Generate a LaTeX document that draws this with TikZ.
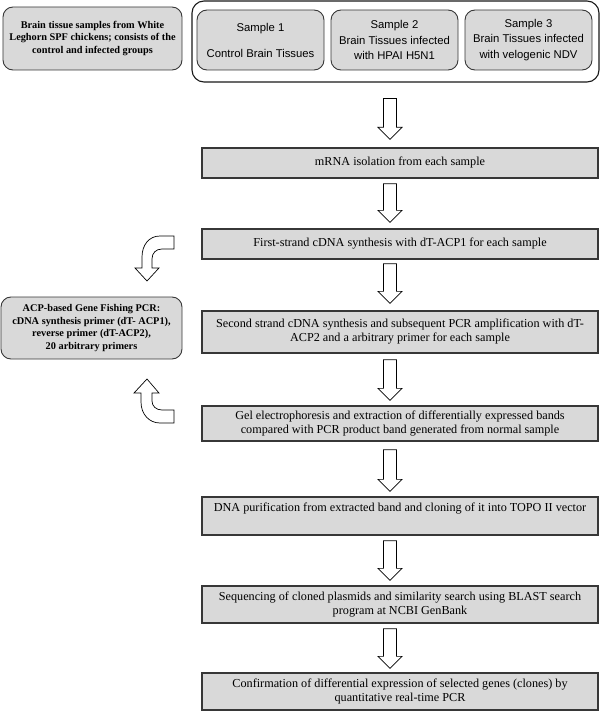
\documentclass[tikz,border=0pt]{standalone}
\usepackage{fontspec}
\setmainfont{Liberation Serif}
\newfontfamily\arialf{Liberation Sans}
\usetikzlibrary{calc}
\definecolor{boxfill}{RGB}{217,217,217}
\definecolor{boxline}{RGB}{55,55,55}
\def\ax{390bp}
\newcommand\blockarr[4]{%
  \draw[blockarrow] let \p1=(#1), \p2=(#2) in
  (\ax-6.5bp,\y1-#3) -- (\ax+6.5bp,\y1-#3) -- (\ax+6.5bp,\y2+#4+12bp) --
  (\ax+12bp,\y2+#4+12bp) -- (\ax,\y2+#4) -- (\ax-12bp,\y2+#4+12bp) --
  (\ax-6.5bp,\y2+#4+12bp) -- cycle;}
\begin{document}
\begin{tikzpicture}[x=1bp,y=-1bp,
  mainbox/.style={draw=boxline, line width=1.3bp, fill=boxfill, minimum width=396bp,
    inner sep=0pt, align=center, font=\fontsize{12.2bp}{14bp}\selectfont},
  samplebox/.style={draw=boxline, line width=0.9bp, fill=boxfill, rounded corners=10bp,
    minimum width=127bp, minimum height=60bp, inner sep=0pt, align=center,
    font=\arialf\fontsize{11.3bp}{15.5bp}\selectfont},
  sidebox/.style={draw=boxline, line width=0.9bp, fill=boxfill, rounded corners=10bp,
    inner sep=0pt, align=center, font=\bfseries\fontsize{10.3bp}{12.8bp}\selectfont},
  blockarrow/.style={draw=black, line width=0.7bp, fill=white, line join=miter},
]
\useasboundingbox (0,0) rectangle (600,711);

% top row
\node[sidebox, minimum width=179bp, minimum height=63bp] (src) at (92.5,38.5)
  {Brain tissue samples from White\\Leghorn SPF chickens; consists of the\\control and infected groups};
\node[draw=black!90, line width=1.1bp, rounded corners=12bp, minimum width=407bp,
  minimum height=81bp, inner sep=0pt] (cont) at (395.5,41.5) {};
\node[samplebox] (s1) at (260.5,40) {Sample 1\\[10.5bp]Control Brain Tissues};
\node[samplebox] (s2) at (394.5,40) {Sample 2\\Brain Tissues infected\\with HPAI H5N1};
\node[samplebox] (s3) at (528.5,40) {Sample 3\\Brain Tissues infected\\with velogenic NDV};

% main column
\node[mainbox, minimum height=30bp] (mrna) at (400,163) {mRNA isolation from each sample};
\node[mainbox, minimum height=30bp] (first) at (400,244) {First-strand cDNA synthesis with dT-ACP1 for each sample};
\node[mainbox, minimum height=42bp] (second) at (400,332)
  {Second strand cDNA synthesis and subsequent PCR amplification with dT-\\ACP2 and a arbitrary primer for each sample};
\node[mainbox, minimum height=35bp] (gel) at (400,423.5)
  {Gel electrophoresis and extraction of differentially expressed bands\\compared with PCR product band generated from normal sample};
\node[mainbox, minimum height=38bp] (dna) at (400,516)
  {DNA purification from extracted band and cloning of it into TOPO II vector\\\strut};
\node[mainbox, minimum height=37bp] (seq) at (400,604.5)
  {Sequencing of cloned plasmids and similarity search using BLAST search\\program at NCBI GenBank};
\node[mainbox, minimum height=37bp] (conf) at (400,691.5)
  {Confirmation of differential expression of selected genes (clones) by\\quantitative real-time PCR};

% side box
\node[sidebox, minimum width=181bp, minimum height=62bp] (acp) at (91.5,328)
  {ACP-based Gene Fishing PCR:\\cDNA synthesis primer (dT- ACP1),\\reverse primer (dT-ACP2),\\20 arbitrary primers};

% straight block arrows
\blockarr{cont.south}{mrna.north}{16bp}{8bp}
\blockarr{mrna.south}{first.north}{5bp}{6bp}
\blockarr{first.south}{second.north}{4bp}{7bp}
\blockarr{second.south}{gel.north}{6bp}{5bp}
\blockarr{gel.south}{dna.north}{8bp}{5bp}
\blockarr{dna.south}{seq.north}{5bp}{5bp}
\blockarr{seq.south}{conf.north}{5bp}{4bp}

% curved block arrows into the side box
\draw[blockarrow] (174,236) -- (160,236) .. controls (149,236) and (142,245) .. (142,257)
  -- (142,268) -- (135,268) -- (147,281) -- (159,268) -- (152,268) -- (152,259)
  .. controls (152,253) and (156,249) .. (162,249) -- (174,249) -- cycle;
\draw[blockarrow] (147,379) -- (159,393) -- (152,393) -- (152,401)
  .. controls (152,406) and (156,410) .. (162,410) -- (174,410) -- (174,423) -- (160,423)
  .. controls (149,423) and (141,414) .. (141,402) -- (141,393) -- (134,393) -- cycle;
\end{tikzpicture}
\end{document}
